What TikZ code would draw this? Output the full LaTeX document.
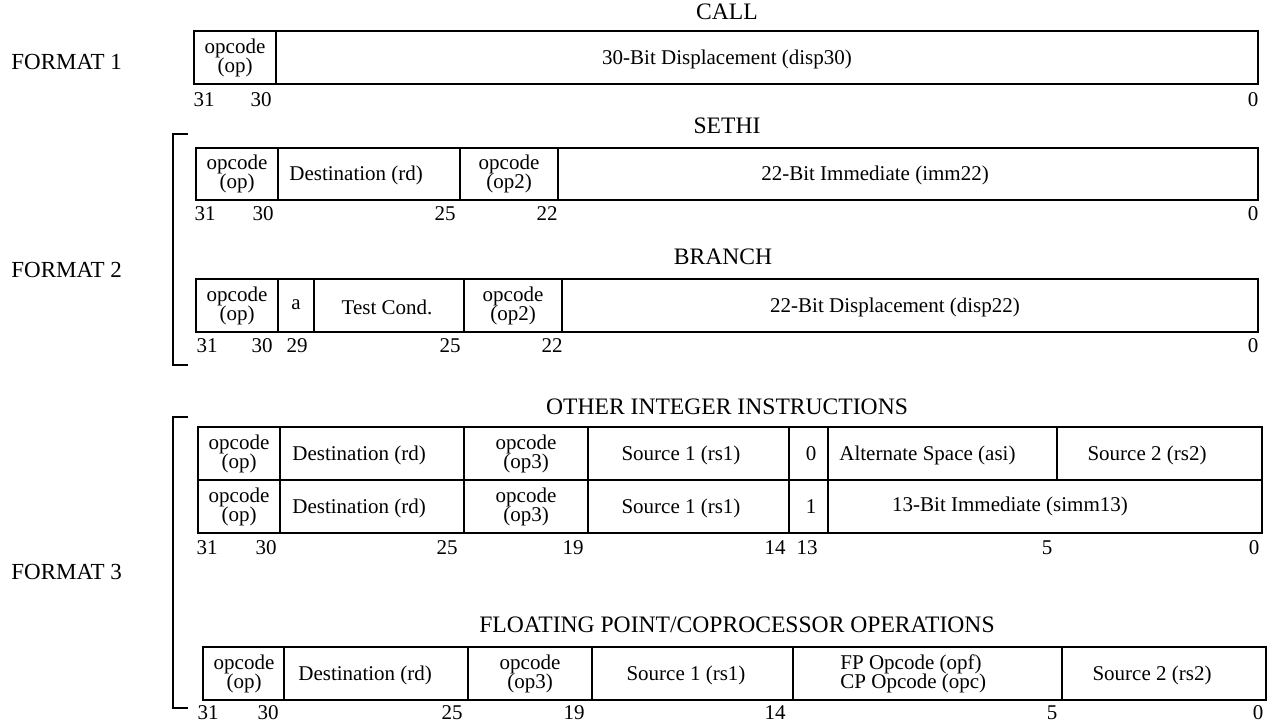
\documentclass[tikz,border=0pt]{standalone}
\usepackage{fontspec}
\setmainfont{Liberation Serif}
\newcommand\fldfont{\fontsize{10.5}{9.5}\selectfont\lineskiplimit=-20pt\relax}
\newcommand\fpfont{\fontsize{10.5}{9.5}\selectfont\lineskiplimit=-20pt\relax}
\begin{document}
\begin{tikzpicture}[x=0.5pt,y=-0.5pt,
  fld/.style={font=\fldfont, align=center, inner sep=0pt},
  fldw/.style={fld, anchor=west, align=left},
  bitn/.style={font=\fontsize{10.5}{12}\selectfont, inner sep=0pt},
  ttl/.style={font=\fontsize{11.8}{14}\selectfont, inner sep=0pt},
  fmt/.style={font=\fontsize{11.5}{14}\selectfont, inner sep=0pt, anchor=west},
  boxl/.style={line width=1pt},
  brk/.style={line width=1.4pt}]
\useasboundingbox (0,0) rectangle (1268,725);

% ---------------- FORMAT 1 ----------------
\node[fmt] (f1) at (11,62) {FORMAT 1};
\node[ttl] (tcall) at (727,12) {CALL};
\draw[boxl] (194,31) rectangle (1258,84);
\draw[boxl] (276,31) -- (276,84);
\node[fld] (c1) at (235,57.5) {opcode\\(op)};
\node[fld] (c2) at (727,59) {30-Bit Displacement (disp30)};
\foreach \x/\t in {204/31,261/30,1253/0}
  \node[bitn] (ca\t) at (\x,100) {\t};

% ---------------- FORMAT 2 ----------------
\node[fmt] (f2) at (11,270) {FORMAT 2};
\coordinate (b2a) at (188,134);
\coordinate (b2b) at (188,365);
\draw[brk] (b2a) -| (173,365) -- (b2b);

% SETHI
\node[ttl] (tsethi) at (727,126) {SETHI};
\draw[boxl] (196,148) rectangle (1258,200);
\foreach \x in {278,460,558} \draw[boxl] (\x,148) -- (\x,200);
\node[fld] (s1) at (237,174) {opcode\\(op)};
\node[fldw] (s2) at (289,175.5) {Destination (rd)};
\node[fld] (s3) at (509,174) {opcode\\(op2)};
\node[fld] (s4) at (875,175.5) {22-Bit Immediate (imm22)};
\foreach \x/\t in {205/31,263/30,445/25,547/22,1253/0}
  \node[bitn] (sa\t) at (\x,214) {\t};

% BRANCH
\node[ttl] (tbranch) at (723,257) {BRANCH};
\draw[boxl] (196,279) rectangle (1258,332);
\foreach \x in {278,314,464,562} \draw[boxl] (\x,279) -- (\x,332);
\node[fld] (r1) at (237,305.5) {opcode\\(op)};
\node[fld] (r2) at (296,305) {a};
\node[fld] (r3) at (387,307) {Test Cond.};
\node[fld] (r4) at (513,305.5) {opcode\\(op2)};
\node[fld] (r5) at (895,307) {22-Bit Displacement (disp22)};
\foreach \x/\t in {207/31,262/30,297/29,450/25,552/22,1253/0}
  \node[bitn] (ra\t) at (\x,346) {\t};

% ---------------- FORMAT 3 ----------------
\node[fmt] (f3) at (11,572) {FORMAT 3};
\coordinate (b3a) at (188,417);
\coordinate (b3b) at (188,708);
\draw[brk] (b3a) -| (173,708) -- (b3b);

% OTHER INTEGER INSTRUCTIONS
\node[ttl] (tother) at (727,407) {OTHER INTEGER INSTRUCTIONS};
\draw[boxl] (198,427) rectangle (1262,533);
\draw[boxl] (198,480) -- (1262,480);
\foreach \x in {280,464,588,789,828} \draw[boxl] (\x,427) -- (\x,533);
\draw[boxl] (1057,427) -- (1057,480);
% row 1
\node[fld] (o1) at (239,453.5) {opcode\\(op)};
\node[fldw] (o2) at (292,455) {Destination (rd)};
\node[fld] (o3) at (526,453.5) {opcode\\(op3)};
\node[fld] (o4) at (681,455) {Source 1 (rs1)};
\node[fld] (o5) at (811,454) {0};
\node[fldw] (o6) at (839,455) {Alternate Space (asi)};
\node[fld] (o7) at (1147,455) {Source 2 (rs2)};
% row 2
\node[fld] (p1) at (239,506.5) {opcode\\(op)};
\node[fldw] (p2) at (292,508) {Destination (rd)};
\node[fld] (p3) at (526,506.5) {opcode\\(op3)};
\node[fld] (p4) at (681,508) {Source 1 (rs1)};
\node[fld] (p5) at (811,507) {1};
\node[fld] (p6) at (1010,506) {13-Bit Immediate (simm13)};
\foreach \x/\t in {207/31,266/30,447/25,573/19,775/14,807/13,1047/5,1254/0}
  \node[bitn] (oa\t) at (\x,548) {\t};

% FLOATING POINT/COPROCESSOR OPERATIONS
\node[ttl] (tfp) at (737,625) {FLOATING POINT/COPROCESSOR OPERATIONS};
\draw[boxl] (203,647) rectangle (1266,700);
\foreach \x in {284,468,592,793,1062} \draw[boxl] (\x,647) -- (\x,700);
\node[fld] (q1) at (244,673.5) {opcode\\(op)};
\node[fldw] (q2) at (298,675) {Destination (rd)};
\node[fld] (q3) at (530,673.5) {opcode\\(op3)};
\node[fld] (q4) at (686,675) {Source 1 (rs1)};
\node[fldw, font=\fpfont] (q5) at (840,674) {FP Opcode (opf)\\CP Opcode (opc)};
\node[fld] (q6) at (1152,675) {Source 2 (rs2)};
\foreach \x/\t in {208/31,268/30,452/25,574/19,775/14,1052/5,1258/0}
  \node[bitn] (qa\t) at (\x,713) {\t};
\end{tikzpicture}
\end{document}
